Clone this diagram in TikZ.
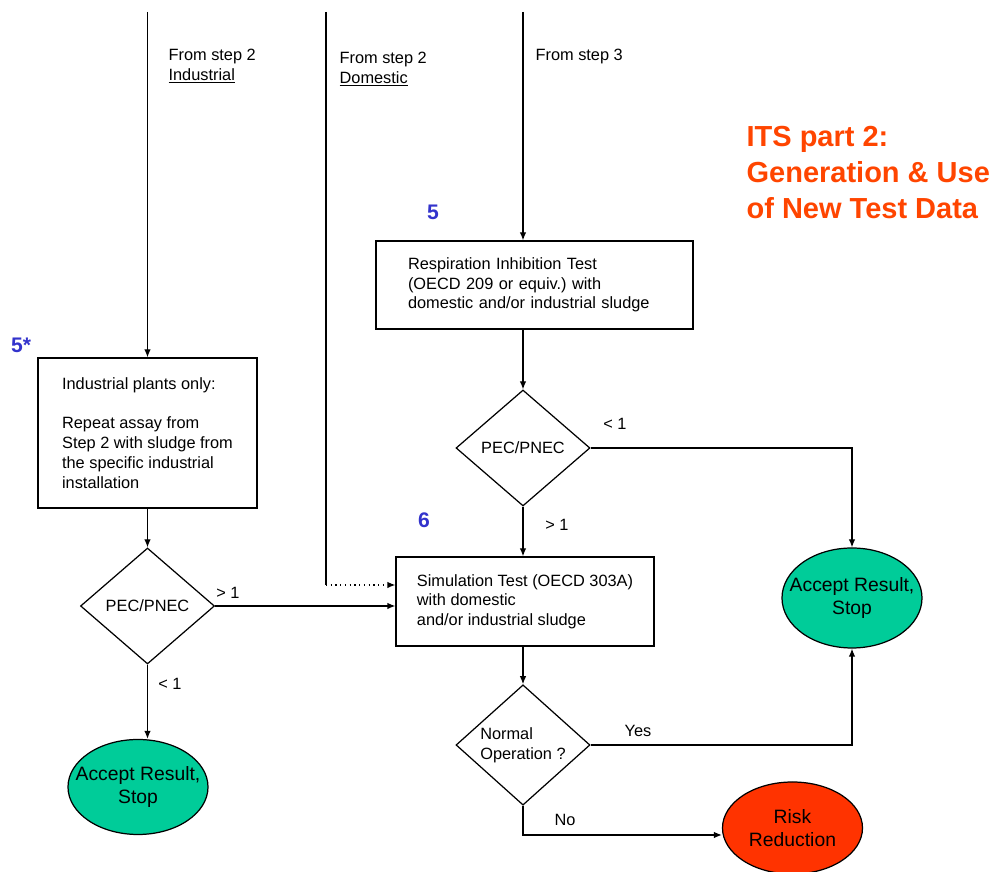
\documentclass[tikz,border=0pt]{standalone}
\usepackage{fontspec}
\setmainfont{Liberation Sans}
\usetikzlibrary{shapes.geometric,arrows.meta}
\definecolor{accgreen}{RGB}{0,204,153}
\definecolor{riskred}{RGB}{255,51,0}
\definecolor{titlered}{RGB}{255,69,0}
\definecolor{stepblue}{RGB}{51,51,204}
\tikzset{
  testbox/.style={draw,rectangle,align=left,inner sep=0pt},
  decision/.style={draw,diamond,inner sep=0pt,minimum width=2.68cm,minimum height=2.32cm},
  stopnode/.style={draw,ellipse,inner xsep=-0.3cm,inner ysep=0pt,minimum width=2.8cm,align=center,font=\fontsize{11}{13}\selectfont},
  stepno/.style={text=stepblue,font=\fontsize{12}{14}\selectfont\bfseries},
  fromlab/.style={anchor=west,align=left,inner sep=0pt}
}
\begin{document}
\frenchspacing
\begin{tikzpicture}[font=\fontsize{9.3}{11.2}\selectfont,line width=0.7pt,>={Latex[length=1.6mm,width=1.3mm]}]
\useasboundingbox (0,0) rectangle (19.94,17.44);

% inputs from earlier steps
\coordinate (ind) at (2.95,17.2);
\coordinate (dom) at (6.52,17.2);
\coordinate (dombend) at (6.52,5.74);
\coordinate (st3) at (10.46,17.2);
\coordinate (nobend) at (10.46,0.74);

\node [fromlab] (indlab) at (3.36,16.11) {From step 2\\\underline{Industrial}};
\node [fromlab] (domlab) at (6.78,16.05) {From step 2\\\underline{Domestic}};
\node [fromlab] (st3lab) at (10.7,16.3) {From step 3};

\node [anchor=west,align=left,inner sep=0pt,text=titlered,font=\fontsize{16.5}{20.7}\selectfont\bfseries] (title) at (14.92,13.99) {ITS part 2:\\Generation \& Use\\of New Test Data};

% step numbers
\node [stepno] (n5) at (8.66,13.2) {5};
\node [stepno] (n5s) at (0.42,10.54) {5*};
\node [stepno] (n6) at (8.48,7.04) {6};

% right column
\node [testbox,text width=5.06cm,inner xsep=0.64cm,minimum height=1.76cm] (resp) at (10.69,11.74) {Respiration Inhibition Test\\(OECD 209 or equiv.) with\\domestic and/or industrial sludge};
\node [decision] (pec1) at (10.46,8.48) {PEC/PNEC};
\node [testbox,minimum width=5.16cm,minimum height=1.78cm] (sim) at (10.5,5.41) {Simulation Test (OECD 303A)\\with domestic\\and/or industrial sludge};
\node [decision,align=left] (oper) at (10.46,2.54) {Normal\\Operation ?};
\node [stopnode,fill=accgreen,minimum height=2cm] (acc2) at (17.04,5.48) {Accept Result,\\Stop};
\node [stopnode,fill=riskred,minimum height=1.84cm] (risk) at (15.85,0.88) {Risk\\Reduction};

% left column
\node [testbox,minimum width=4.38cm,minimum height=3cm] (plant) at (2.95,8.78) {Industrial plants only:\\[11.2pt]Repeat assay from\\Step 2 with sludge from\\the specific industrial\\installation};
\node [decision] (pec2) at (2.95,5.32) {PEC/PNEC};
\node [stopnode,fill=accgreen,minimum height=1.9cm] (acc1) at (2.76,1.7) {Accept Result,\\Stop};

% edge labels
\node (lt1) at (12.3,8.96) {< 1};
\node (gt1) at (11.14,6.94) {> 1};
\node (gt2) at (4.56,5.58) {> 1};
\node (lt2) at (3.4,3.76) {< 1};
\node (yes) at (12.76,2.82) {Yes};
\node (no) at (11.3,1.04) {No};

% connectors
\draw[->] (ind) -- (plant.north);
\draw (dom) -- (dombend);
\draw[->,dotted] (dombend) -- (dombend -| sim.west);
\draw[->] (st3) -- (st3 |- resp.north);
\draw[->] (resp.south -| pec1.north) -- (pec1.north);
\draw[->] (pec1.east) -| (acc2.north);
\draw[->] (pec1.south) -- (pec1.south |- sim.north);
\draw[->] (sim.south -| oper.north) -- (oper.north);
\draw[->] (oper.east) -| (acc2.south);
\draw[->] (oper.south) -- (nobend) -- (nobend -| risk.west);
\draw[->] (plant.south) -- (pec2.north);
\draw[->] (pec2.east) -- (pec2.east -| sim.west);
\draw[->] (pec2.south) -- (pec2.south |- acc1.north);
\end{tikzpicture}
\end{document}
